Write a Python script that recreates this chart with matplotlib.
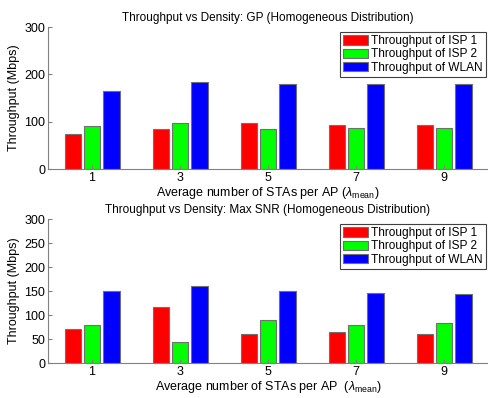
import matplotlib
matplotlib.use("Agg")
import matplotlib.pyplot as plt
import numpy as np

plt.rcParams['font.family'] = ['Liberation Sans', 'DejaVu Sans']
plt.rcParams['mathtext.fontset'] = 'custom'
plt.rcParams['mathtext.rm'] = 'Liberation Sans'
plt.rcParams['mathtext.it'] = 'Liberation Sans:italic'

# average number of STAs per AP
density = [1, 3, 5, 7, 9]

# GP
gp_isp1 = [73, 85, 97, 94, 94]
gp_isp2 = [90, 98, 84, 86, 86]
gp_wlan = [164, 183, 180, 180, 180]

# Max SNR
snr_isp1 = [71, 116, 61, 64, 60]
snr_isp2 = [79, 44, 89, 80, 84]
snr_wlan = [150, 161, 149, 145, 143]

labels = ['Throughput of ISP 1', 'Throughput of ISP 2', 'Throughput of WLAN']
colors = ['#ff0000', '#00ff00', '#0000ff']

fig = plt.figure(figsize=(4.88, 3.98), dpi=100)
ax1 = fig.add_axes([48 / 488, 1 - 169 / 398, 440 / 488, 142 / 398])
ax2 = fig.add_axes([48 / 488, 1 - 363 / 398, 440 / 488, 144 / 398])


def draw(ax, series, title, yticks, xlabel, h):
    x = np.array(density)
    w = 0.37
    offs = [-0.44, 0, 0.44]
    for s, c, lab, o in zip(series, colors, labels, offs):
        ax.bar(x + o, s, w, color=c, edgecolor='#707070', linewidth=0.8, label=lab)
    ax.set_xlim(0, 10)
    ax.set_ylim(0, 300)
    ax.set_xticks(density)
    ax.set_yticks(yticks)
    ax.tick_params(direction='in', length=3, labelsize=9, color='#808080', pad=2)
    for sp in ['top', 'right']:
        ax.spines[sp].set_visible(False)
    for sp in ['left', 'bottom']:
        ax.spines[sp].set_color('#808080')
    ax.set_title(title, fontsize=8.5, pad=4)
    ax.set_ylabel('Throughput (Mbps)', fontsize=9, labelpad=3)
    ax.set_xlabel(xlabel, fontsize=9, labelpad=1)
    leg = ax.legend(loc='upper right', bbox_to_anchor=(1 - 2 / 440, 1 - 5 / h),
                    fontsize=8.6, fancybox=False, framealpha=1,
                    edgecolor='#404040', handlelength=2.1, handleheight=0.85,
                    handletextpad=0.25, borderaxespad=0, borderpad=0.25,
                    labelspacing=0.12)
    leg.get_frame().set_linewidth(0.8)


draw(ax1, [gp_isp1, gp_isp2, gp_wlan],
     'Throughput vs Density: GP (Homogeneous Distribution)',
     [0, 100, 200, 300], r'Average number of STAs per AP ($\lambda_{\mathrm{mean}}$)', 142)
draw(ax2, [snr_isp1, snr_isp2, snr_wlan],
     'Throughput vs Density: Max SNR (Homogeneous Distribution)',
     [0, 50, 100, 150, 200, 250, 300], r'Average number of STAs per AP  ($\lambda_{\mathrm{mean}}$)', 144)

fig.savefig('out.png', dpi=100)
